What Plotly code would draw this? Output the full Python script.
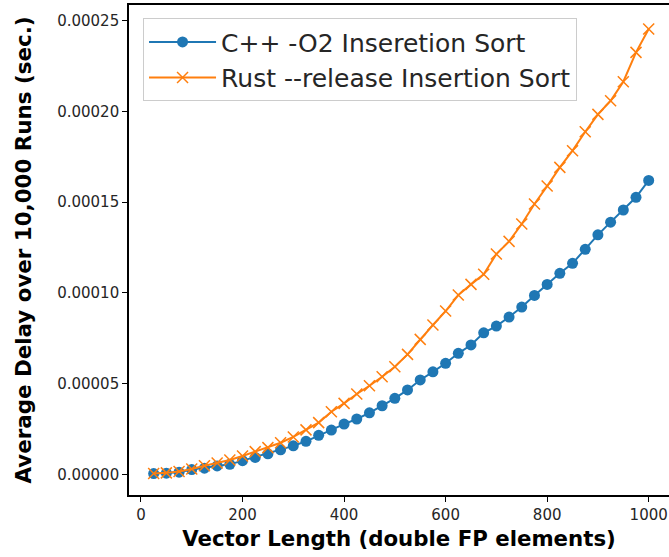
import plotly.graph_objects as go

vector_length = [25, 50, 75, 100, 125, 150, 175, 200, 225, 250, 275, 300, 325, 350, 375, 400,
                 425, 450, 475, 500, 525, 550, 575, 600, 625, 650, 675, 700, 725, 750, 775, 800,
                 825, 850, 875, 900, 925, 950, 975, 1000]

cpp_delay = [0.0000004, 0.0000006, 0.0000012, 0.0000026, 0.0000034, 0.0000046, 0.0000055, 0.0000075,
             0.0000093, 0.0000113, 0.0000135, 0.0000157, 0.0000182, 0.0000215, 0.0000244, 0.0000277,
             0.0000305, 0.0000339, 0.0000378, 0.0000419, 0.0000465, 0.0000520, 0.0000565, 0.0000612,
             0.0000667, 0.0000713, 0.0000780, 0.0000817, 0.0000867, 0.0000922, 0.0000986, 0.0001047,
             0.0001108, 0.0001163, 0.0001240, 0.0001320, 0.0001390, 0.0001457, 0.0001527, 0.0001620]

rust_delay = [0.0000005, 0.0000008, 0.0000016, 0.0000029, 0.0000047, 0.0000062, 0.0000079, 0.0000101,
              0.0000125, 0.0000147, 0.0000174, 0.0000206, 0.0000245, 0.0000285, 0.0000345, 0.0000391,
              0.0000443, 0.0000488, 0.0000538, 0.0000593, 0.0000661, 0.0000744, 0.0000823, 0.0000900,
              0.0000988, 0.0001047, 0.0001103, 0.0001214, 0.0001284, 0.0001380, 0.0001490, 0.0001589,
              0.0001692, 0.0001784, 0.0001888, 0.0001984, 0.0002059, 0.0002164, 0.0002326, 0.0002455]

x_ticks = [0, 200, 400, 600, 800, 1000]
y_ticks = [0.0, 0.00005, 0.0001, 0.00015, 0.0002, 0.00025]
y_tick_labels = ["0.00000", "0.00005", "0.00010", "0.00015", "0.00020", "0.00025"]

FONT = "DejaVu Sans"

fig = go.Figure()
fig.add_trace(go.Scatter(
    x=vector_length, y=cpp_delay, mode="lines+markers",
    name="C++ -O2 Inseretion Sort",
    line=dict(color="#1f77b4", width=2),
    marker=dict(symbol="circle", size=11, color="#1f77b4"),
))
fig.add_trace(go.Scatter(
    x=vector_length, y=rust_delay, mode="lines+markers",
    name="Rust --release Insertion Sort",
    line=dict(color="#ff7f0e", width=2),
    marker=dict(symbol="x-thin", size=11, color="#ff7f0e",
                line=dict(color="#ff7f0e", width=1.5)),
))

fig.update_layout(
    width=669, height=557,
    margin=dict(l=129, r=0, t=5, b=62, autoexpand=False),
    paper_bgcolor="white", plot_bgcolor="white",
    font=dict(family=FONT, size=15, color="#262626"),
    showlegend=True,
    legend=dict(
        x=0.026, y=0.973, xanchor="left", yanchor="top",
        bgcolor="rgba(255,255,255,0.8)", bordercolor="#cccccc", borderwidth=1,
        font=dict(family=FONT, size=25, color="#262626"),
        itemwidth=67, tracegroupgap=2,
    ),
)

fig.update_xaxes(
    range=[-23.6, 1040], automargin=False,
    tickvals=x_ticks, ticktext=[str(v) for v in x_ticks],
    showgrid=False, zeroline=False,
    showline=True, linecolor="black", linewidth=1.6, mirror=True,
    ticks="outside", ticklen=5, tickwidth=1.2, tickcolor="black",
    tickfont=dict(family=FONT, size=15, color="#262626"),
    title=dict(text="<b>Vector Length (double FP elements)</b>",
               font=dict(family=FONT, size=21.3, color="black"), standoff=8),
)
fig.update_yaxes(
    range=[-0.0000114, 0.0002587], automargin=False,
    tickvals=y_ticks, ticktext=y_tick_labels,
    showgrid=False, zeroline=False,
    showline=True, linecolor="black", linewidth=1.6, mirror=False,
    ticks="outside", ticklen=5, tickwidth=1.2, tickcolor="black",
    tickfont=dict(family=FONT, size=15, color="#262626"),
    title=dict(text="<b>Average Delay over 10,000 Runs (sec.)</b>",
               font=dict(family=FONT, size=21.4, color="black"), standoff=20),
)

fig.write_html(
    "out.html",
    config={"displayModeBar": False},
    post_script="document.body.style.margin='0';document.body.style.overflow='hidden';",
)
